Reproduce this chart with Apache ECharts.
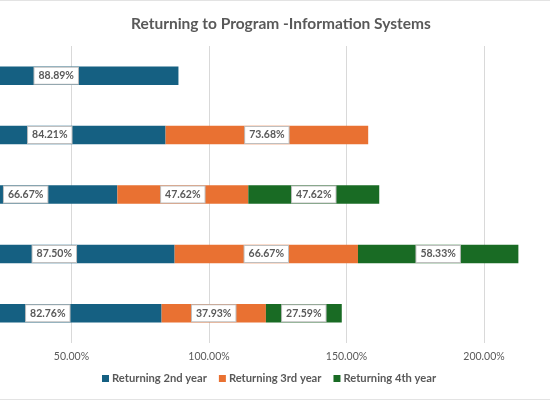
<!DOCTYPE html>
<html>
<head>
<meta charset="utf-8">
<script src="https://cdn.jsdelivr.net/npm/echarts@6/dist/echarts.min.js"></script>
<style>
html,body{margin:0;padding:0;background:#fff;}
#c{width:550px;height:400px;box-sizing:border-box;border-top:1px solid #e3e3e3;border-bottom:1px solid #e3e3e3;}
</style>
</head>
<body>
<div id="c"></div>
<script>
const categories = ['Cohort 1', 'Cohort 2', 'Cohort 3', 'Cohort 4', 'Cohort 5'];
const seriesNames = ['Returning 2nd year', 'Returning 3rd year', 'Returning 4th year'];
const year2 = [88.89, 84.21, 66.67, 87.50, 82.76];
const year3 = [null, 73.68, 47.62, 66.67, 37.93];
const year4 = [null, null, 47.62, 58.33, 27.59];
const colors = ['#156082', '#E97132', '#196B24'];

const font = 'Lato, "Noto Sans", sans-serif';
const chart = echarts.init(document.getElementById('c'));
const mk = (name, data, color) => ({
  name: name,
  type: 'bar',
  stack: 'total',
  data: data,
  barWidth: 18.5,
  itemStyle: { color: color },
  label: {
    show: true,
    position: 'inside',
    formatter: p => p.value == null ? '' : p.value.toFixed(2) + '%',
    color: '#595959',
    fontFamily: font,
    fontWeight: 'bold',
    fontSize: 10.5,
    backgroundColor: '#ffffff',
    borderColor: '#bfbfbf',
    borderWidth: 1,
    padding: [3, 4, 2, 4]
  }
});
chart.setOption({
  animation: false,
  title: {
    text: 'Returning to Program -Information Systems',
    left: 126,
    top: 10,
    textStyle: { color: '#595959', fontFamily: font, fontWeight: 'bold', fontSize: 15.5 }
  },
  legend: {
    data: seriesNames,
    bottom: 10,
    left: 97,
    itemWidth: 7,
    itemHeight: 7,
    itemGap: 12,
    icon: 'rect',
    textStyle: { color: '#595959', fontFamily: font, fontWeight: 'bold', fontSize: 11.2, padding: [0, 0, 0, -2] }
  },
  grid: { left: -66, right: -71.5, top: 45, bottom: 56, containLabel: false, outerBoundsMode: 'none' },
  xAxis: {
    type: 'value',
    min: 0,
    max: 250,
    interval: 50,
    axisLine: { show: false },
    axisTick: { show: false },
    splitLine: { lineStyle: { color: '#d9d9d9' } },
    axisLabel: {
      formatter: v => v.toFixed(2) + '%',
      color: '#595959',
      fontFamily: font,
      fontSize: 10.5,
      margin: 8
    }
  },
  yAxis: {
    type: 'category',
    data: categories,
    inverse: true,
    axisLine: { show: false },
    axisTick: { show: false },
    axisLabel: { show: false }
  },
  series: [mk(seriesNames[0], year2, colors[0]), mk(seriesNames[1], year3, colors[1]), mk(seriesNames[2], year4, colors[2])]
});
</script>
</body>
</html>
